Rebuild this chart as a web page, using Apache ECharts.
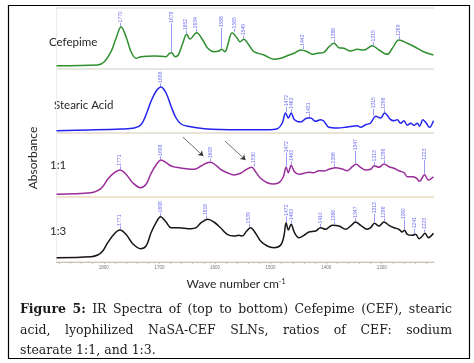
<!DOCTYPE html>
<html>
<head>
<meta charset="utf-8">
<title>IR Spectra</title>
<script src="https://cdn.jsdelivr.net/npm/echarts@6/dist/echarts.min.js"></script>
<style>
    html,body{margin:0;padding:0;background:#fff;}
    #irChart{width:474px;height:363px;}
</style>
</head>
<body>
<div id="irChart"></div>
<script>
//波数（横轴，cm-1）与吸光度（各面板内的相对高度）
var cefWn=[1885,1811,1799,1787,1778,1769,1760,1751,1742,1733,1709,1688,1682,1678,1672,1666,1658,1651,1645,1633,1622,1613,1602,1593,1588,1582,1578,1569,1560,1555,1548,1539,1530,1512,1494,1482,1470,1458,1446,1434,1425,1416,1404,1395,1386,1377,1368,1356,1344,1332,1317,1305,1290,1281,1269,1254,1236,1225,1207];
var cefAbs=[3.3,4,7.3,17.3,30.7,42.3,32.3,17.3,10.7,12.3,13,12.3,15.7,16.3,12.3,14,25.7,34.7,30,36.3,29,20.7,17.3,18,19.7,17.3,22.3,36.3,30.7,27.3,29.7,24,17.3,14,9.7,10.7,13.3,15.7,19,17.3,14.7,15.7,16.7,22.3,25.7,21.3,20.7,18,19.7,19,23.3,19,14.7,20.7,29,25.7,20.7,17.3,14];
var cefPeaks=[1770,1678,1652,1634,1588,1565,1549,1442,1386,1315,1269];

var saWn=[1885,1829,1769,1745,1733,1724,1715,1706,1697,1688,1679,1670,1661,1649,1619,1559,1506,1488,1479,1473,1468,1463,1457,1446,1434,1428,1419,1410,1404,1395,1380,1362,1344,1338,1329,1320,1311,1302,1295,1284,1278,1272,1266,1260,1254,1248,1242,1236,1232,1226,1220,1214,1207];
var saAbs=[2.3,3,4,5,8.3,18.3,31.7,41.7,46,40,26.7,15,9,6.7,4.3,3.3,3.3,4.3,10,20,15,20,13.3,11,15,15,11.7,13.3,11.7,5.7,5,6,7.3,5.7,8.3,10,16.7,15,20,13.3,12.3,13.3,9.7,12.3,7.7,9.7,7.7,9.7,6.7,13.3,10,5.7,12.3];
var saPeaks=[1698,1472,1463,1431,1315,1296];

var r11Wn=[1885,1823,1811,1802,1793,1781,1771,1760,1748,1734,1724,1715,1706,1697,1688,1679,1670,1658,1649,1637,1625,1616,1608,1599,1590,1578,1566,1554,1545,1534,1527,1518,1506,1494,1485,1477,1472,1468,1463,1457,1449,1440,1431,1422,1413,1404,1395,1383,1371,1362,1353,1346,1338,1329,1320,1313,1305,1296,1287,1278,1269,1260,1254,1245,1238,1232,1223,1216,1207];
var r11Abs=[2.7,4.3,6.3,10.3,17.7,24.3,27,22.7,14.3,9.3,12.7,23.7,32,37,34.3,31,29.7,28.7,28,27.7,31,33.7,34.7,32,27.7,24.3,22,23.7,27,29.7,25.3,18.7,14.3,13,14.3,20.3,29.7,24.3,31.7,25.3,22.7,23.7,24.7,24.3,26.3,26,27.7,29.3,28,26.3,30.3,32.7,29.7,27,27.7,31.3,29.7,33,30.3,28.7,26.3,24.3,20.3,20.3,19,15.7,22.3,17,20.3];
var r11Peaks=[1771,1698,1608,1530,1472,1463,1386,1347,1313,1296,1223];

var r13Wn=[1885,1823,1811,1802,1793,1781,1771,1760,1748,1734,1724,1715,1706,1698,1688,1679,1667,1655,1643,1634,1625,1613,1602,1590,1578,1566,1557,1551,1543,1536,1527,1518,1506,1494,1482,1476,1472,1468,1463,1457,1449,1440,1431,1419,1410,1401,1389,1377,1365,1356,1347,1338,1326,1320,1313,1305,1296,1287,1278,1269,1263,1259,1254,1245,1239,1233,1228,1222,1216,1207];
var r13Abs=[4.3,5.3,7,11,19.3,28.3,32,27.7,18.3,13.3,16,29.3,39.3,45.3,40,34.3,34.3,33.7,33.3,34.3,39.3,42.7,40,34.3,27.7,26,26.7,26,31,34.3,28.7,21,16,14.3,16.7,26,39.3,32,37.7,29.3,24.3,26.7,30,31,34.3,32.7,36.7,36,32.7,36,40,36.7,32.7,34.3,38.7,36,40,36.7,34.3,32.7,30,31.7,27.7,26.7,27.7,23.3,25.3,28.7,24.3,28.7];
var r13Peaks=[1771,1698,1616,1539,1472,1463,1410,1386,1347,1313,1296,1260,1241,1223];

var panelNames=["Cefepime","Stearic Acid","1:1","1:3"];
var tickLabels=[1800,1700,1600,1500,1400,1300];

var xMin=1206, xMax=1886;
var peakColor="#7070f0";

/*四个面板的位置，高度与吸光度单位一致；lift是个别标签的长引线高度*/
var panels=[
    {top:8,height:61,color:"#2e8f2e",wn:cefWn,abs:cefAbs,peaks:cefPeaks,line:"#e4e4e4",nameX:49,lift:{1678:30,1588:22}},
    {top:69,height:64,color:"#2424f0",wn:saWn,abs:saAbs,peaks:saPeaks,line:"#e6e4dc",nameX:54,lift:{1472:7,1315:8}},
    {top:133,height:64,color:"#992d99",wn:r11Wn,abs:r11Abs,peaks:r11Peaks,line:"#e8e2d6",nameX:50,lift:{1472:15,1347:14,1223:15}},
    {top:197,height:65,color:"#151515",wn:r13Wn,abs:r13Abs,peaks:r13Peaks,line:"#f2e2c6",nameX:50,lift:{1472:7,1313:10,1260:11,1241:6}}
];

//找峰顶的高度，用于放峰值标签
function peakTop(wn,abs,w){
    var best=-1;
    for(var i=0;i<wn.length;i++){
        if(Math.abs(wn[i]-w)<=6 && abs[i]>best){ best=abs[i]; }
    }
    if(best<0){
        var k=0;
        for(var i=1;i<wn.length;i++){ if(Math.abs(wn[i]-w)<Math.abs(wn[k]-w)) k=i; }
        best=abs[k];
    }
    return best;
}

function buildPairs(wn,abs){
    var d=[];
    for(var i=0;i<wn.length;i++){ d.push([wn[i],abs[i]]); }
    return d;
}

/*横轴上的小刻度，每20一个*/
var minorTicks=[];
for(var t=1220;t<=1880;t+=20){ minorTicks.push(t); }

var grids=[],xAxes=[],yAxes=[],series=[];
for(var p=0;p<panels.length;p++){
    var pn=panels[p];
    var last=(p==panels.length-1);
    grids.push({left:56,right:40,top:pn.top,height:pn.height,outerBoundsMode:'none'});
    xAxes.push({
        type:'value',gridIndex:p,min:xMin,max:xMax,inverse:true,
        axisLine:{show:last,lineStyle:{color:'#c4c4c4',width:1}},
        axisTick:{show:last,customValues:minorTicks,length:2,lineStyle:{color:'#bdbdbd',width:0.8}},
        axisLabel:{show:last,customValues:tickLabels,fontSize:4.5,color:'#777',margin:3,fontFamily:'Arial',
            formatter:function(v){ return String(v); }},
        splitLine:{show:false},
        name:last?'{a|Wave number cm}{s|-1}':'',
        nameLocation:'middle',nameGap:16,
        nameTextStyle:{padding:[0,18,0,0],rich:{
            a:{fontFamily:'Lato',fontSize:12,color:'#262626'},
            s:{fontFamily:'Lato',fontSize:7,color:'#262626',verticalAlign:'top',padding:[0,0,6,0]}
        }}
    });
    yAxes.push({
        type:'value',gridIndex:p,min:0,max:pn.height,interval:pn.height,
        axisLine:{show:true,lineStyle:{color:'#ececec',width:1}},
        axisTick:{show:false},axisLabel:{show:false},
        splitLine:{show:true,lineStyle:{color:pn.line,width:1.5}}
    });

    //峰值标签与引线（注意：全局变量不能叫top，会跟window.top冲突）
    var mp=[],ml=[];
    for(var k=0;k<pn.peaks.length;k++){
        var w=pn.peaks[k];
        var peakH=peakTop(pn.wn,pn.abs,w);
        var up=pn.lift[w]||4.3;
        ml.push([{coord:[w,peakH+0.8]},{coord:[w,peakH+up-0.5]}]);
        mp.push({coord:[w,peakH+up],value:w});
    }
    if(p==2){ //1:1 面板里的两个箭头
        ml.push([{coord:[1658,60],lineStyle:{color:'#333',width:0.7}},{coord:[1621,41],symbol:'arrow',symbolSize:5}]);
        ml.push([{coord:[1582,56],lineStyle:{color:'#333',width:0.7}},{coord:[1545,37],symbol:'arrow',symbolSize:5}]);
    }
    series.push({
        name:panelNames[p],type:'line',xAxisIndex:p,yAxisIndex:p,
        data:buildPairs(pn.wn,pn.abs),
        showSymbol:false,symbol:'none',smooth:0.35,clip:false,
        lineStyle:{color:pn.color,width:1.5},
        markPoint:{
            silent:true,symbol:'circle',symbolSize:1,data:mp,
            itemStyle:{color:'rgba(0,0,0,0)'},
            label:{show:true,position:'inside',rotate:90,align:'left',verticalAlign:'middle',
                formatter:function(d){ return String(d.value); },fontSize:5,color:peakColor,fontFamily:'Arial'}
        },
        markLine:{
            silent:true,symbol:['none','none'],data:ml,
            label:{show:false},
            lineStyle:{color:peakColor,width:0.7,type:'solid'}
        }
    });
}

/*图注：两端对齐，逐词摆放*/
function captionGraphics(){
    var lines=[
        {lead:['Figure','5:'],text:'IR Spectra of (top to bottom) Cefepime (CEF), stearic',justify:true,y:310},
        {lead:[],text:'acid, lyophilized NaSA-CEF SLNs, ratios of CEF: sodium',justify:true,y:330.5},
        {lead:[],text:'stearate 1:1, and 1:3.',justify:false,y:350.5}
    ];
    var ctx=document.createElement('canvas').getContext('2d');
    var size=12.5, fam='DejaVu Serif', left=20, right=452;
    var out=[];
    for(var i=0;i<lines.length;i++){
        var items=[];
        lines[i].lead.forEach(function(s){ items.push({t:s,b:true}); });
        lines[i].text.split(' ').forEach(function(s){ items.push({t:s,b:false}); });
        var sum=0;
        items.forEach(function(it){
            ctx.font=(it.b?'bold ':'normal ')+size+'px "'+fam+'"';
            it.w=ctx.measureText(it.t).width; sum+=it.w;
        });
        ctx.font='normal '+size+'px "'+fam+'"';
        var gap=lines[i].justify?(right-left-sum)/(items.length-1):ctx.measureText(' ').width;
        var x=left;
        for(var j=0;j<items.length;j++){
            out.push({type:'text',x:x,y:lines[i].y,silent:true,style:{
                text:items[j].t,fontSize:size,fontFamily:fam,fontWeight:items[j].b?'bold':'normal',
                fill:'#1c1c1c',textVerticalAlign:'middle'}});
            x+=items[j].w+gap;
        }
    }
    return out;
}

var graphics=[
    {type:'rect',silent:true,shape:{x:8.5,y:5.5,width:461,height:353},style:{fill:'none',stroke:'#000',lineWidth:1.2}},
    {type:'text',x:33,y:158,rotation:Math.PI/2,silent:true,style:{text:'Absorbance',fontSize:12,fontFamily:'Lato',fill:'#262626',textAlign:'center',textVerticalAlign:'middle'}}
];
var nameY=[42,105,165,231];
for(var p=0;p<panels.length;p++){
    graphics.push({type:'text',x:panels[p].nameX,y:nameY[p],silent:true,style:{text:panelNames[p],fontSize:11.5,fontFamily:'Lato',fill:'#262626',textVerticalAlign:'middle'}});
}
graphics=graphics.concat(captionGraphics());

var myChart=echarts.init(document.getElementById('irChart'));
var option={
    animation:false,
    backgroundColor:'#fff',
    grid:grids,
    xAxis:xAxes,
    yAxis:yAxes,
    series:series,
    graphic:graphics
};
myChart.setOption(option);
window.addEventListener("resize",function(){
    myChart.resize();
});
</script>
</body>
</html>
